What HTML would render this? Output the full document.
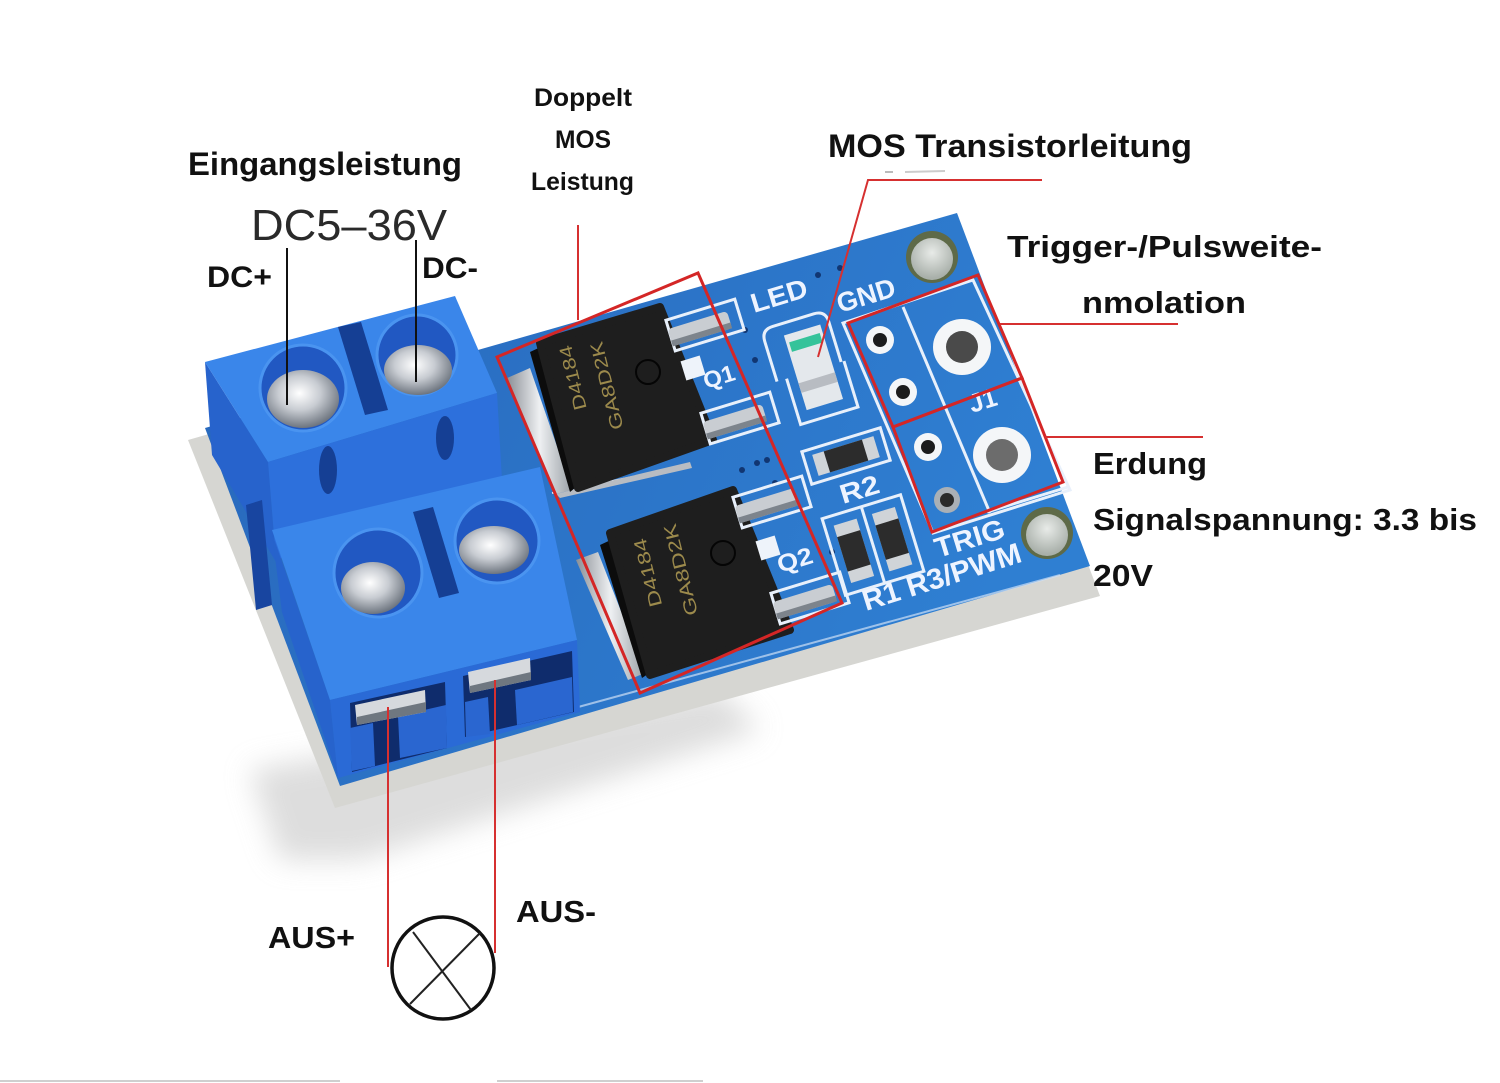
<!DOCTYPE html>
<html><head><meta charset="utf-8">
<style>
html,body{margin:0;padding:0;background:#fff;}
svg{display:block;}
text{font-family:"Liberation Sans",Arial,sans-serif;}
</style></head><body>
<svg width="1500" height="1083" viewBox="0 0 1500 1083" xmlns="http://www.w3.org/2000/svg">
<defs>
 <filter id="blur" x="-30%" y="-30%" width="160%" height="160%"><feGaussianBlur stdDeviation="14"/></filter>
 <radialGradient id="screw" cx="45%" cy="40%" r="65%">
   <stop offset="0" stop-color="#ffffff"/>
   <stop offset="0.45" stop-color="#c8ccd2"/>
   <stop offset="1" stop-color="#5f6772"/>
 </radialGradient>
 <linearGradient id="pcb" x1="0" y1="0" x2="1" y2="0.3">
   <stop offset="0" stop-color="#2867bb"/>
   <stop offset="1" stop-color="#2f7fd2"/>
 </linearGradient>
 <linearGradient id="tab" x1="0" y1="0" x2="1" y2="0">
   <stop offset="0" stop-color="#8a8f96"/>
   <stop offset="0.5" stop-color="#eef0f2"/>
   <stop offset="1" stop-color="#9aa0a6"/>
 </linearGradient>
 <radialGradient id="hole" cx="50%" cy="35%" r="60%">
   <stop offset="0" stop-color="#e8ebe8"/>
   <stop offset="1" stop-color="#a9b0aa"/>
 </radialGradient>
</defs>
<rect width="1500" height="1083" fill="#fff"/>

<!-- shadow -->
<polygon points="250,770 720,690 760,730 360,860 280,860" fill="#d2d2d2" opacity="0.75" filter="url(#blur)"/>

<!-- PCB -->
<polygon points="188,440 957,220 1100,596 335,808" fill="#d6d6d2"/>
<polygon points="205,428 957,213 1090,566 340,786" fill="url(#pcb)"/>
<polyline points="560,712 1060,575" fill="none" stroke="#cfe0f5" stroke-width="2" opacity="0.7"/>
<polyline points="552,493 683,467" fill="none" stroke="#d8e6f8" stroke-width="2"/>

<!-- vias -->
<g fill="#113672">
<circle cx="745" cy="330" r="3"/><circle cx="755" cy="360" r="3"/><circle cx="818" cy="275" r="3"/><circle cx="840" cy="268" r="3"/>
<circle cx="742" cy="470" r="3"/><circle cx="767" cy="460" r="3"/><circle cx="775" cy="483" r="3"/><circle cx="832" cy="552" r="3"/><circle cx="757" cy="463" r="3"/>
</g>

<!-- MOSFET 1 -->
<polygon points="507,378 530,368 572,490 556,494" fill="url(#tab)"/>
<polygon points="556,494 572,490 690,462 692,468 560,498" fill="#b8bcc2"/>
<polygon points="530,352 545,345 585,480 570,492" fill="#0c0c0c"/>
<polygon points="540,343 660,307 713,440 578,488" fill="#1e1e1e" stroke="#1e1e1e" stroke-width="8" stroke-linejoin="round"/>
<text x="572" y="385" font-size="18" fill="#9c8a4c" text-anchor="middle" transform="rotate(-104 572 378)" textLength="66" lengthAdjust="spacingAndGlyphs">D4184</text>
<text x="606" y="393" font-size="18" fill="#9c8a4c" text-anchor="middle" transform="rotate(-104 606 386)" textLength="90" lengthAdjust="spacingAndGlyphs">GA8D2K</text>
<circle cx="648" cy="372" r="12" fill="none" stroke="#050505" stroke-width="2"/>

<!-- MOSFET 2 -->
<polygon points="576,560 598,552 645,673 628,680" fill="url(#tab)"/>
<polygon points="600,545 615,538 657,668 642,678" fill="#0c0c0c"/>
<polygon points="610,533 733,490 790,630 650,675" fill="#1e1e1e" stroke="#1e1e1e" stroke-width="8" stroke-linejoin="round"/>
<text x="647" y="580" font-size="18" fill="#9c8a4c" text-anchor="middle" transform="rotate(-104 647 573)" textLength="70" lengthAdjust="spacingAndGlyphs">D4184</text>
<text x="680" y="577" font-size="18" fill="#9c8a4c" text-anchor="middle" transform="rotate(-104 680 570)" textLength="94" lengthAdjust="spacingAndGlyphs">GA8D2K</text>
<circle cx="723" cy="553" r="12" fill="none" stroke="#050505" stroke-width="2"/>

<!-- pins -->
<g transform="rotate(-17 705 325)"><rect x="669" y="309" width="72" height="32" fill="none" stroke="#e8f0fb" stroke-width="3"/><rect x="668" y="318" width="62" height="18" rx="4" fill="#c9cdd2"/><rect x="668" y="330" width="62" height="6" fill="#7d848c"/></g>
<g transform="rotate(-17 693 368)"><rect x="683" y="358" width="20" height="20" fill="#eef3fa"/></g>
<g transform="rotate(-17 740 418)"><rect x="704" y="402" width="72" height="32" fill="none" stroke="#e8f0fb" stroke-width="3"/><rect x="703" y="411" width="62" height="18" rx="4" fill="#c9cdd2"/><rect x="703" y="423" width="62" height="6" fill="#7d848c"/></g>
<g transform="rotate(-17 772 502)"><rect x="736" y="486" width="72" height="32" fill="none" stroke="#e8f0fb" stroke-width="3"/><rect x="735" y="495" width="62" height="18" rx="4" fill="#c9cdd2"/><rect x="735" y="507" width="62" height="6" fill="#7d848c"/></g>
<g transform="rotate(-17 768 548)"><rect x="758" y="538" width="20" height="20" fill="#eef3fa"/></g>
<g transform="rotate(-17 810 598)"><rect x="774" y="582" width="72" height="32" fill="none" stroke="#e8f0fb" stroke-width="3"/><rect x="773" y="591" width="62" height="18" rx="4" fill="#c9cdd2"/><rect x="773" y="603" width="62" height="6" fill="#7d848c"/></g>

<!-- LED -->
<g transform="rotate(-17 808 370)">
 <path d="M775 372 L775 330 Q775 318 787 318 L830 318 Q842 318 842 330 L842 372" fill="none" stroke="#e8f0fb" stroke-width="3"/>
 <path d="M785 372 L785 420 L845 420 L845 372" fill="none" stroke="#e8f0fb" stroke-width="3"/>
 <rect x="795" y="330" width="38" height="78" fill="#e4e8ec"/>
 <rect x="798" y="338" width="32" height="10" fill="#35c39a"/>
 <rect x="795" y="380" width="38" height="10" fill="#b8bcc2"/>
</g>

<!-- R2 -->
<g transform="rotate(-17 846 456)">
 <rect x="805" y="439" width="82" height="34" fill="none" stroke="#e8f0fb" stroke-width="3"/>
 <rect x="814" y="445" width="64" height="22" fill="#d0d4d8"/>
 <rect x="826" y="445" width="40" height="22" fill="#2c2c2c"/>
</g>
<!-- R1 R3 -->
<g transform="rotate(-17 873 545)">
 <rect x="832" y="505" width="82" height="80" fill="none" stroke="#e8f0fb" stroke-width="3"/>
 <line x1="873" y1="505" x2="873" y2="585" stroke="#e8f0fb" stroke-width="3"/>
 <rect x="841" y="515" width="24" height="60" fill="#d0d4d8"/>
 <rect x="841" y="527" width="24" height="36" fill="#2c2c2c"/>
 <rect x="881" y="515" width="24" height="60" fill="#d0d4d8"/>
 <rect x="881" y="527" width="24" height="36" fill="#2c2c2c"/>
</g>

<!-- header silkscreen -->
<polygon points="843,323 973,280 1070,490 933,533" fill="none" stroke="#e8f0fb" stroke-width="3"/>
<line x1="903" y1="307" x2="990" y2="513" stroke="#e8f0fb" stroke-width="3"/>
<line x1="987" y1="512" x2="1068" y2="487" stroke="#e8f0fb" stroke-width="3"/>

<!-- header pads -->
<circle cx="880" cy="340" r="14" fill="#f4f6f8"/><circle cx="880" cy="340" r="7" fill="#1c1c1c"/>
<circle cx="903" cy="392" r="14" fill="#f4f6f8"/><circle cx="903" cy="392" r="7" fill="#1c1c1c"/>
<circle cx="928" cy="447" r="14" fill="#f4f6f8"/><circle cx="928" cy="447" r="7" fill="#1c1c1c"/>
<circle cx="947" cy="500" r="13" fill="#aab0b6"/><circle cx="947" cy="500" r="7" fill="#2a2a2a"/>
<ellipse cx="962" cy="347" rx="29" ry="28" fill="#f4f6f8"/><circle cx="962" cy="347" r="16" fill="#4a4a4a"/>
<ellipse cx="1002" cy="455" rx="29" ry="28" fill="#f4f6f8"/><circle cx="1002" cy="455" r="16" fill="#6c6c6c"/>

<!-- mounting holes -->
<circle cx="932" cy="257" r="26" fill="#5e6a48"/><circle cx="932" cy="259" r="21" fill="url(#hole)"/>
<circle cx="1047" cy="533" r="26" fill="#5e6a48"/><circle cx="1047" cy="535" r="21" fill="url(#hole)"/>

<!-- silkscreen text -->
<g fill="#eef4ff" font-weight="bold">
<text x="754" y="313" font-size="27" transform="rotate(-17 754 313)" textLength="58" lengthAdjust="spacingAndGlyphs">LED</text>
<text x="840" y="313" font-size="27" transform="rotate(-17 840 313)" textLength="60" lengthAdjust="spacingAndGlyphs">GND</text>
<text x="706" y="389" font-size="23" transform="rotate(-17 706 389)" textLength="32" lengthAdjust="spacingAndGlyphs">Q1</text>
<text x="780" y="573" font-size="24" transform="rotate(-17 780 573)" textLength="36" lengthAdjust="spacingAndGlyphs">Q2</text>
<text x="843" y="504" font-size="27" transform="rotate(-17 843 504)" textLength="40" lengthAdjust="spacingAndGlyphs">R2</text>
<text x="972" y="413" font-size="26" transform="rotate(-17 972 413)" textLength="28" lengthAdjust="spacingAndGlyphs">J1</text>
<text x="938" y="558" font-size="28" transform="rotate(-17 938 558)" textLength="72" lengthAdjust="spacingAndGlyphs">TRIG</text>
<text x="866" y="611" font-size="29" transform="rotate(-17.5 866 611)" textLength="165" lengthAdjust="spacingAndGlyphs">R1 R3/PWM</text>
</g>

<!-- Terminal block 1 -->
<polygon points="205,362 268,462 276,562 212,455" fill="#2763cc"/>
<polygon points="205,362 455,296 497,393 268,462" fill="#3a86ea"/>
<polygon points="268,462 497,393 502,480 276,560" fill="#2d70dc"/>
<ellipse cx="328" cy="470" rx="9" ry="24" fill="#153f94"/>
<ellipse cx="445" cy="438" rx="9" ry="22" fill="#153f94"/>
<polygon points="338,327 361,322 388,410 365,415" fill="#153f94"/>
<circle cx="303" cy="388" r="43" fill="#2158c2"/>
<circle cx="303" cy="388" r="43" fill="none" stroke="#4a94f0" stroke-width="3"/>
<ellipse cx="303" cy="399" rx="36" ry="29" fill="url(#screw)"/>
<circle cx="417" cy="355" r="40" fill="#2158c2"/>
<circle cx="417" cy="355" r="40" fill="none" stroke="#4a94f0" stroke-width="3"/>
<ellipse cx="418" cy="370" rx="34" ry="25" fill="url(#screw)"/>

<!-- Terminal block 2 -->
<polygon points="246,505 262,500 272,605 256,610" fill="#1845a0"/>
<polygon points="272,533 330,700 338,778 282,612" fill="#2763cc"/>
<polygon points="272,530 540,467 577,640 330,700" fill="#3a86ea"/>
<polygon points="330,700 577,640 580,712 338,778" fill="#2a6ad6"/>
<polygon points="350,703 445,682 447,748 352,772" fill="#0f2c6c"/>
<polygon points="463,676 572,651 574,712 465,737" fill="#0f2c6c"/>
<polygon points="350,728 373,723 375,766 352,771" fill="#2a66d0"/>
<polygon points="398,716 446,705 447,748 400,758" fill="#2a66d0"/>
<polygon points="465,702 488,697 490,734 466,737" fill="#2a66d0"/>
<polygon points="515,690 572,677 573,712 517,725" fill="#2a66d0"/>
<polygon points="355,705 425,690 426,712 357,725" fill="#d6d9dd"/>
<polygon points="357,717 426,702 426,712 357,725" fill="#6f7780"/>
<polygon points="468,672 530,658 531,680 470,693" fill="#d6d9dd"/>
<polygon points="470,686 531,672 531,680 470,693" fill="#6f7780"/>
<polygon points="413,512 433,507 459,593 439,598" fill="#153f94"/>
<circle cx="378" cy="573" r="44" fill="#2158c2"/>
<circle cx="378" cy="573" r="44" fill="none" stroke="#4a94f0" stroke-width="3"/>
<ellipse cx="373" cy="588" rx="32" ry="26" fill="url(#screw)"/>
<circle cx="497" cy="541" r="42" fill="#2158c2"/>
<circle cx="497" cy="541" r="42" fill="none" stroke="#4a94f0" stroke-width="3"/>
<ellipse cx="494" cy="550" rx="35" ry="24" fill="url(#screw)"/>

<!-- red boxes -->
<g fill="none" stroke="#d42626" stroke-width="3" stroke-linejoin="miter">
<polygon points="497,357 698,273 842,603 640,693"/>
<polygon points="848,323 978,275 1022,378 893,427"/>
<polygon points="893,427 1022,378 1063,482 932,532"/>
</g>

<!-- annotation lines -->
<g stroke="#d63030" stroke-width="2" fill="none">
<line x1="578" y1="225" x2="578" y2="320"/>
<polyline points="1042,180 868,180 818,357"/>
<line x1="1000" y1="324" x2="1178" y2="324"/>
<line x1="1045" y1="437" x2="1203" y2="437"/>
<line x1="388" y1="707" x2="388" y2="967"/>
<line x1="495" y1="680" x2="495" y2="953"/>
</g>
<g stroke="#111" stroke-width="2">
<line x1="287" y1="248" x2="287" y2="405"/>
<line x1="416" y1="240" x2="416" y2="382"/>
</g>
<line x1="885" y1="172" x2="893" y2="172" stroke="#bbb" stroke-width="2"/>
<line x1="905" y1="172" x2="945" y2="171" stroke="#ccc" stroke-width="2"/>

<!-- lamp -->
<circle cx="443" cy="968" r="51" fill="none" stroke="#111" stroke-width="3.5"/>
<line x1="413" y1="932" x2="471" y2="1010" stroke="#222" stroke-width="2"/>
<line x1="480" y1="933" x2="410" y2="1004" stroke="#222" stroke-width="2"/>

<!-- bottom faint lines -->
<line x1="0" y1="1081" x2="340" y2="1081" stroke="#cfcfcf" stroke-width="2"/>
<line x1="497" y1="1081" x2="703" y2="1081" stroke="#cfcfcf" stroke-width="2"/>

<!-- labels -->
<g fill="#111" font-weight="bold">
<text x="188" y="175" font-size="32" textLength="274" lengthAdjust="spacingAndGlyphs">Eingangsleistung</text>
<text x="207" y="287" font-size="30" textLength="65" lengthAdjust="spacingAndGlyphs">DC+</text>
<text x="422" y="278" font-size="30" textLength="56" lengthAdjust="spacingAndGlyphs">DC-</text>
<text x="534" y="106" font-size="25" textLength="98" lengthAdjust="spacingAndGlyphs">Doppelt</text>
<text x="555" y="148" font-size="25" textLength="56" lengthAdjust="spacingAndGlyphs">MOS</text>
<text x="531" y="190" font-size="25" textLength="103" lengthAdjust="spacingAndGlyphs">Leistung</text>
<text x="828" y="157" font-size="32" textLength="364" lengthAdjust="spacingAndGlyphs">MOS Transistorleitung</text>
<text x="1007" y="257" font-size="31" textLength="315" lengthAdjust="spacingAndGlyphs">Trigger-/Pulsweite-</text>
<text x="1082" y="313" font-size="31" textLength="164" lengthAdjust="spacingAndGlyphs">nmolation</text>
<text x="1093" y="474" font-size="31" textLength="114" lengthAdjust="spacingAndGlyphs">Erdung</text>
<text x="1093" y="530" font-size="31" textLength="384" lengthAdjust="spacingAndGlyphs">Signalspannung: 3.3 bis</text>
<text x="1093" y="586" font-size="31" textLength="60" lengthAdjust="spacingAndGlyphs">20V</text>
<text x="268" y="948" font-size="31" textLength="87" lengthAdjust="spacingAndGlyphs">AUS+</text>
<text x="516" y="922" font-size="31" textLength="80" lengthAdjust="spacingAndGlyphs">AUS-</text>
</g>
<text x="251" y="240" font-size="44" fill="#2a2a2a" textLength="196" lengthAdjust="spacingAndGlyphs">DC5–36V</text>
</svg>
</body></html>
